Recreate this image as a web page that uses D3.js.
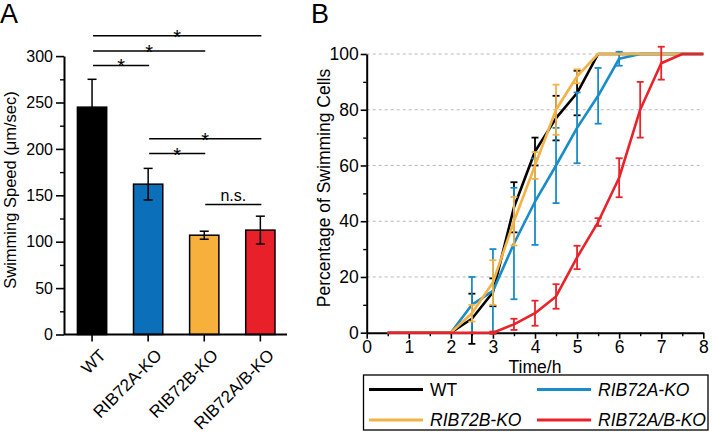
<!DOCTYPE html>
<html><head><meta charset="utf-8">
<script src="https://cdn.jsdelivr.net/npm/d3@7"></script>
<style>body{margin:0;background:#fff}svg{display:block;font-family:"Liberation Sans",Arial,sans-serif}</style>
</head><body><svg id="c" width="712" height="432"></svg>
<script>
// Panel A data
const speedCategories = ["WT","RIB72A-KO","RIB72B-KO","RIB72A/B-KO"];
const speedMeans = [245, 162, 107, 112.5];
const speedErrors = [30, 17, 4.3, 15];
const speedColors = ["#000000","#0b6fba","#f8b03c","#e8202a"];
const speedTicks = [0,50,100,150,200,250,300];
const sigPairs = [[0,1],[0,2],[0,3],[1,3],[1,2],[2,3]];
const sigLevels = [290, 305.5, 322, 211, 195, 140];
const sigLabels = ["*","*","*","*","*","n.s."];

// Panel B data
const times = [0.5,1,1.5,2,2.5,3,3.5,4,4.5,5,5.5,6,6.5,7,7.5,8];
const wt      = [0,0,0,0,5,14.5,45,65,77,86,100,100,100,100,100,100];
const wtErr   = [0,0,0,0,9,5,9,5,8,8,0,0,0,0,0,0];
const ribA    = [0,0,0,0,10,15,32,47,60,73.5,85,98.3,100,100,100,100];
const ribAErr = [0,0,0,0,10,15,20,15.5,13.5,12.7,10,2.5,0,0,0,0];
const ribB    = [0,0,0,0,7,18,40,60,80,92,100,100,100,100,100,100];
const ribBErr = [0,0,0,0,3,8,8.7,4.8,9,2.5,0,0,0,0,0,0];
const ribAB   = [0,0,0,0,0,0,3,7,13,27,39.7,55.6,80,96.7,100,100];
const ribABErr= [0,0,0,0,0,0.4,2,4.5,4.4,4.2,1.4,7,10,5.9,0,0];
const seriesNames = ["WT","RIB72A-KO","RIB72B-KO","RIB72A/B-KO"];
const seriesColors = ["#000000","#1a8cc8","#f2b245","#e8232b"];
const seriesItalic = [false,true,true,true];
const pctTicks = [0,20,40,60,80,100];
const timeTicks = [0,1,2,3,4,5,6,7,8];

const svg = d3.select("#c");
const FF = "Liberation Sans, Arial, sans-serif";

// ---------- Panel A ----------
const xA = d3.scaleBand().domain(speedCategories).range([64, 288.4]).paddingInner(0.478).paddingOuter(0.239);
const yA = d3.scaleLinear().domain([0,300]).range([334.5, 56.1]);
const gA = svg.append("g");

gA.selectAll("rect.bar").data(speedCategories).enter().append("rect")
  .attr("x", d => xA(d)).attr("width", xA.bandwidth())
  .attr("y", (d,i) => yA(speedMeans[i])).attr("height", (d,i) => yA(0) - yA(speedMeans[i]))
  .attr("fill", (d,i) => speedColors[i]).attr("stroke", "#000").attr("stroke-width", 1.5);
speedCategories.forEach((c,i) => {
  const cx = xA(c) + xA.bandwidth()/2;
  const t = yA(speedMeans[i] + speedErrors[i]), b = yA(speedMeans[i] - speedErrors[i]);
  const g = gA.append("g").attr("stroke","#000").attr("stroke-width",1.5);
  g.append("line").attr("x1",cx).attr("x2",cx).attr("y1",t).attr("y2",b);
  g.append("line").attr("x1",cx-4.5).attr("x2",cx+4.5).attr("y1",t).attr("y2",t);
  g.append("line").attr("x1",cx-4.5).attr("x2",cx+4.5).attr("y1",b).attr("y2",b);
});
const yAxisA = gA.append("g").attr("transform","translate(64,0)")
  .call(d3.axisLeft(yA).tickValues(speedTicks).tickSize(8).tickSizeOuter(0).tickPadding(3));
yAxisA.select(".domain").attr("stroke-width",2);
yAxisA.selectAll(".tick line").attr("stroke-width",1.6);
yAxisA.selectAll(".tick text").attr("font-size",16).attr("font-family",FF).attr("fill","#000");
gA.append("g").attr("transform","translate(64,0)")
  .call(d3.axisLeft(yA).tickValues(d3.range(25,300,50)).tickSize(4).tickFormat(""))
  .call(g => g.select(".domain").remove()).selectAll("line").attr("stroke-width",1.4);
const xAxisA = gA.append("g").attr("transform","translate(0,334.5)")
  .call(d3.axisBottom(xA).tickSize(7).tickSizeOuter(0).tickPadding(4));
xAxisA.select(".domain").attr("stroke-width",2).attr("d","M64,0H287");
xAxisA.selectAll(".tick line").attr("stroke-width",1.6);
xAxisA.selectAll(".tick text").attr("font-size",17).attr("font-family",FF).attr("fill","#000")
  .attr("text-anchor","end").attr("dy",0).attr("transform","translate(7,14) rotate(-45)");
gA.append("text").attr("transform","translate(16,190) rotate(-90)").attr("text-anchor","middle")
  .attr("font-size",16.5).text("Swimming Speed (μm/sec)");
sigPairs.forEach((p,i) => {
  const x1 = xA(speedCategories[p[0]]) + xA.bandwidth()/2;
  const x2 = xA(speedCategories[p[1]]) + xA.bandwidth()/2;
  const y = yA(sigLevels[i]);
  gA.append("line").attr("x1",x1+1).attr("x2",x2+1).attr("y1",y).attr("y2",y).attr("stroke","#000").attr("stroke-width",1.5);
  const isStar = sigLabels[i] === "*";
  gA.append("text").attr("x",(x1+x2)/2 + 1).attr("y", isStar ? y+8 : y-4).attr("text-anchor","middle")
    .attr("font-size", isStar ? 20 : 16).text(sigLabels[i]);
});
svg.append("text").attr("x",0).attr("y",23).attr("font-size",27).text("A");

// ---------- Panel B ----------
const xB = d3.scaleLinear().domain([0,8]).range([366.7, 703.3]);
const yB = d3.scaleLinear().domain([0,100]).range([332.7, 54]);
const gB = svg.append("g");
gB.selectAll("line.grid").data([20,40,60,80,100]).enter().append("line")
  .attr("x1",xB(0)).attr("x2",xB(8)).attr("y1",d=>yB(d)).attr("y2",d=>yB(d))
  .attr("stroke","#b8b8b8").attr("stroke-width",1).attr("stroke-dasharray","3,3");
const yAxisB = gB.append("g").attr("transform",`translate(${xB(0)},0)`)
  .call(d3.axisLeft(yB).tickValues(pctTicks).tickSize(6).tickSizeOuter(0).tickPadding(2));
yAxisB.select(".domain").attr("stroke-width",2);
yAxisB.selectAll(".tick line").attr("stroke-width",1.6);
yAxisB.selectAll(".tick text").attr("font-size",17.5).attr("font-family",FF).attr("fill","#000");
gB.append("g").attr("transform",`translate(${xB(0)},0)`)
  .call(d3.axisLeft(yB).tickValues(d3.range(10,100,20)).tickSize(3.5).tickFormat(""))
  .call(g => g.select(".domain").remove()).selectAll("line").attr("stroke-width",1.4);
const xAxisB = gB.append("g").attr("transform",`translate(0,${yB(0)})`)
  .call(d3.axisBottom(xB).tickValues(timeTicks).tickSize(6).tickSizeOuter(0).tickPadding(2).tickFormat(d3.format("d")));
xAxisB.select(".domain").attr("stroke-width",2);
xAxisB.selectAll(".tick line").attr("stroke-width",1.6);
xAxisB.selectAll(".tick text").attr("font-size",17.5).attr("font-family",FF).attr("fill","#000");
gB.append("g").attr("transform",`translate(0,${yB(0)})`)
  .call(d3.axisBottom(xB).tickValues(d3.range(0.5,8,1)).tickSize(3.5).tickFormat(""))
  .call(g => g.select(".domain").remove()).selectAll("line").attr("stroke-width",1.4);
gB.append("text").attr("x",(xB(0)+xB(8))/2).attr("y",372.5).attr("text-anchor","middle").attr("font-size",17.5).text("Time/h");
gB.append("text").attr("transform","translate(330,188) rotate(-90)").attr("text-anchor","middle")
  .attr("font-size",17.5).text("Percentage of Swimming Cells");
svg.append("text").attr("x",311).attr("y",23).attr("font-size",27).text("B");

const allSeries = [[wt,wtErr],[ribA,ribAErr],[ribB,ribBErr],[ribAB,ribABErr]];
const line = d3.line().x((d,i)=>xB(times[i])).y(d=>yB(d)).curve(d3.curveLinear);
allSeries.forEach((s,k) => {
  const [vals, errs] = s;
  gB.append("path").datum(vals).attr("d",line).attr("fill","none")
    .attr("stroke",seriesColors[k]).attr("stroke-width",2.6).attr("stroke-linejoin","round");
  const eg = gB.append("g").attr("stroke",seriesColors[k]).attr("stroke-width",1.8);
  vals.forEach((v,i) => {
    if (errs[i] <= 0) return;
    const cx = xB(times[i]);
    const t = yB(v+errs[i]), b = yB(v-errs[i]);
    eg.append("line").attr("x1",cx).attr("x2",cx).attr("y1",t).attr("y2",b);
    eg.append("line").attr("x1",cx-3.5).attr("x2",cx+3.5).attr("y1",t).attr("y2",t);
    eg.append("line").attr("x1",cx-3.5).attr("x2",cx+3.5).attr("y1",b).attr("y2",b);
  });
});

const lg = svg.append("g");
lg.append("rect").attr("x",363.5).attr("y",375).attr("width",344.5).attr("height",55)
  .attr("fill","none").attr("stroke","#000").attr("stroke-width",1.3);
const legPos = [[369,389.5],[537,389.5],[369,420],[537,420]];
seriesNames.forEach((n,k) => {
  const [lx, ly] = legPos[k];
  lg.append("line").attr("x1",lx).attr("x2",lx+54).attr("y1",ly).attr("y2",ly)
    .attr("stroke",seriesColors[k]).attr("stroke-width",3);
  lg.append("text").attr("x",lx+61).attr("y",ly+6.2).attr("font-size",17.5)
    .attr("font-style", seriesItalic[k] ? "italic" : "normal").text(n);
});
</script></body></html>
